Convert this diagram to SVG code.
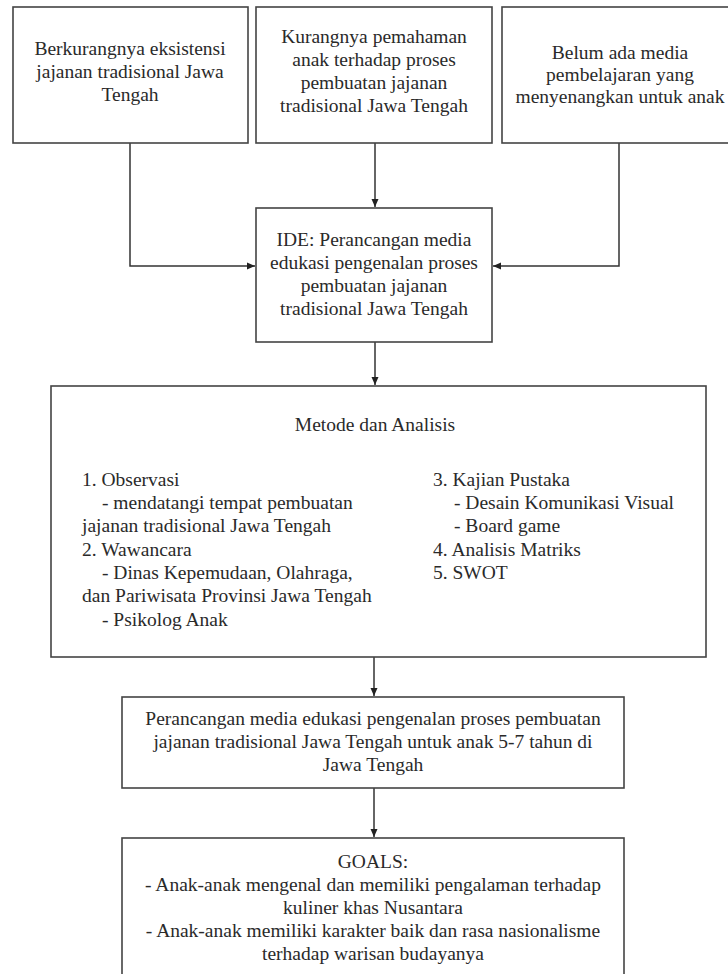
<svg xmlns="http://www.w3.org/2000/svg" width="728" height="974" viewBox="0 0 728 974">
<defs>
<style>
.box{fill:#fff;stroke:#444;stroke-width:1.6}
.t{font-family:"Liberation Serif","Times New Roman",serif;font-size:19.5px;fill:#2a2a2a}
.c{text-anchor:middle}
.conn{fill:none;stroke:#333;stroke-width:1.5}
</style>
<marker id="ah" markerUnits="userSpaceOnUse" markerWidth="9" markerHeight="8" refX="8" refY="4" orient="auto">
<path d="M0,0.5 L8,4 L0,7.5 z" fill="#222"/>
</marker>
</defs>
<rect width="728" height="974" fill="#fff"/>
<g id="connectors">
<path class="conn" d="M130,143 V266 H255" marker-end="url(#ah)"/>
<path class="conn" d="M375,143 V207" marker-end="url(#ah)"/>
<path class="conn" d="M619,143 V266 H493" marker-end="url(#ah)"/>
<path class="conn" d="M375,342 V385" marker-end="url(#ah)"/>
<path class="conn" d="M374,657 V696" marker-end="url(#ah)"/>
<path class="conn" d="M374,788 V837" marker-end="url(#ah)"/>
</g>
<g id="n1">
<rect class="box" x="13" y="7" width="235" height="136"/>
<text class="t c" x="130" y="55">Berkurangnya eksistensi</text>
<text class="t c" x="130" y="78">jajanan tradisional Jawa</text>
<text class="t c" x="130" y="101">Tengah</text>
</g>
<g id="n2">
<rect class="box" x="256" y="7" width="236" height="136"/>
<text class="t c" x="374" y="43">Kurangnya pemahaman</text>
<text class="t c" x="374" y="66">anak terhadap proses</text>
<text class="t c" x="374" y="89">pembuatan jajanan</text>
<text class="t c" x="374" y="112">tradisional Jawa Tengah</text>
</g>
<g id="n3">
<rect class="box" x="502" y="7" width="240" height="136"/>
<text class="t c" x="620" y="59">Belum ada media</text>
<text class="t c" x="620" y="81">pembelajaran yang</text>
<text class="t c" x="620" y="103">menyenangkan untuk anak</text>
</g>
<g id="ide">
<rect class="box" x="256" y="208" width="236" height="134"/>
<text class="t c" x="374" y="246">IDE: Perancangan media</text>
<text class="t c" x="374" y="269">edukasi pengenalan proses</text>
<text class="t c" x="374" y="292">pembuatan jajanan</text>
<text class="t c" x="374" y="315">tradisional Jawa Tengah</text>
</g>
<g id="metode">
<rect class="box" x="51" y="386" width="655" height="271"/>
<text class="t c" x="375" y="431">Metode dan Analisis</text>
<text class="t" x="82" y="486">1. Observasi</text>
<text class="t" x="102" y="509">- mendatangi tempat pembuatan</text>
<text class="t" x="82" y="532">jajanan tradisional Jawa Tengah</text>
<text class="t" x="82" y="556">2. Wawancara</text>
<text class="t" x="102" y="579">- Dinas Kepemudaan, Olahraga,</text>
<text class="t" x="82" y="602">dan Pariwisata Provinsi Jawa Tengah</text>
<text class="t" x="102" y="626">- Psikolog Anak</text>
<text class="t" x="433" y="486">3. Kajian Pustaka</text>
<text class="t" x="454" y="509">- Desain Komunikasi Visual</text>
<text class="t" x="454" y="532">- Board game</text>
<text class="t" x="433" y="556">4. Analisis Matriks</text>
<text class="t" x="433" y="579">5. SWOT</text>
</g>
<g id="perancangan">
<rect class="box" x="122" y="697" width="502" height="91"/>
<text class="t c" x="373" y="725">Perancangan media edukasi pengenalan proses pembuatan</text>
<text class="t c" x="373" y="748">jajanan tradisional Jawa Tengah untuk anak 5-7 tahun di</text>
<text class="t c" x="373" y="771">Jawa Tengah</text>
</g>
<g id="goals">
<rect class="box" x="122" y="838" width="502" height="160"/>
<text class="t c" x="373" y="868">GOALS:</text>
<text class="t c" x="373" y="891">- Anak-anak mengenal dan memiliki pengalaman terhadap</text>
<text class="t c" x="373" y="914">kuliner khas Nusantara</text>
<text class="t c" x="373" y="937">- Anak-anak memiliki karakter baik dan rasa nasionalisme</text>
<text class="t c" x="373" y="960">terhadap warisan budayanya</text>
</g>
</svg>
